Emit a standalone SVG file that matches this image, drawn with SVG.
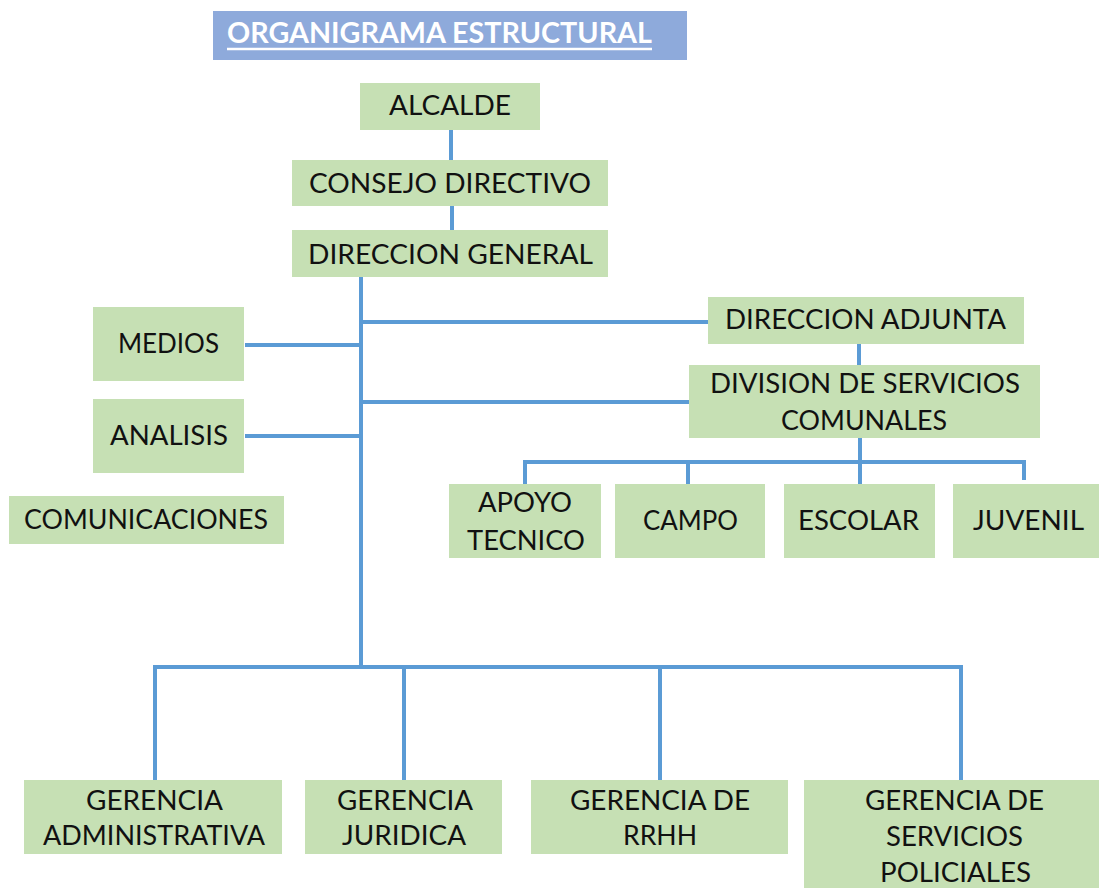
<svg xmlns="http://www.w3.org/2000/svg" width="1099" height="888" viewBox="0 0 1099 888">
<style>
.box{fill:#C6E0B4}
.t{font-family:Lato,"Open Sans","DejaVu Sans",sans-serif;font-size:27px;fill:#111111;text-anchor:middle}
.c{stroke:#5B9BD5;stroke-width:4;fill:none;stroke-linejoin:miter}
</style>
<rect width="1099" height="888" fill="#ffffff"/>
<g id="title">
<rect x="213" y="11" width="474" height="49" fill="#8EAADB"/>
<text x="439.5" y="43" font-family="Lato,'Open Sans',sans-serif" font-size="28" font-weight="bold" fill="#ffffff" text-anchor="middle" textLength="425" lengthAdjust="spacingAndGlyphs">ORGANIGRAMA ESTRUCTURAL</text>
<line x1="227" y1="49" x2="652" y2="49" stroke="#ffffff" stroke-width="2.5"/>
</g>
<g id="connectors" class="c">
<line x1="451" y1="130" x2="451" y2="160"/>
<line x1="452" y1="206" x2="452" y2="230"/>
<line x1="361" y1="277" x2="361" y2="667"/>
<line x1="245" y1="345" x2="361" y2="345"/>
<line x1="245" y1="436" x2="361" y2="436"/>
<line x1="361" y1="322" x2="708" y2="322"/>
<line x1="361" y1="402" x2="689" y2="402"/>
<line x1="859" y1="344" x2="859" y2="366"/>
<line x1="860" y1="437" x2="860" y2="484"/>
<polyline points="525,484 525,462 1024,462 1024,480"/>
<line x1="688" y1="462" x2="688" y2="488"/>
<polyline points="155,780 155,667 961,667 961,780"/>
<line x1="404" y1="667" x2="404" y2="780"/>
<line x1="660" y1="667" x2="660" y2="780"/>
</g>
<g id="alcalde"><rect class="box" x="360" y="83" width="180" height="47"/><text class="t" x="450" y="115" textLength="122" lengthAdjust="spacingAndGlyphs">ALCALDE</text></g>
<g id="consejo"><rect class="box" x="292" y="160" width="316" height="46"/><text class="t" x="450" y="193" textLength="282" lengthAdjust="spacingAndGlyphs">CONSEJO DIRECTIVO</text></g>
<g id="direccion-general"><rect class="box" x="292" y="230" width="316" height="47"/><text class="t" x="450.5" y="264" textLength="285" lengthAdjust="spacingAndGlyphs">DIRECCION GENERAL</text></g>
<g id="medios"><rect class="box" x="93" y="307" width="151" height="74"/><text class="t" x="168.5" y="353" textLength="101" lengthAdjust="spacingAndGlyphs">MEDIOS</text></g>
<g id="analisis"><rect class="box" x="93" y="399" width="151" height="74"/><text class="t" x="169" y="445" textLength="118" lengthAdjust="spacingAndGlyphs">ANALISIS</text></g>
<g id="comunicaciones"><rect class="box" x="9" y="496" width="275" height="48"/><text class="t" x="146" y="529" textLength="244" lengthAdjust="spacingAndGlyphs">COMUNICACIONES</text></g>
<g id="direccion-adjunta"><rect class="box" x="708" y="297" width="316" height="47"/><text class="t" x="865.5" y="329" textLength="281" lengthAdjust="spacingAndGlyphs">DIRECCION ADJUNTA</text></g>
<g id="division"><rect class="box" x="689" y="365" width="351" height="73"/><text class="t" x="865" y="393" textLength="310" lengthAdjust="spacingAndGlyphs">DIVISION DE SERVICIOS</text><text class="t" x="864" y="430" textLength="166" lengthAdjust="spacingAndGlyphs">COMUNALES</text></g>
<g id="apoyo"><rect class="box" x="449" y="484" width="152" height="74"/><text class="t" x="525" y="512" textLength="94" lengthAdjust="spacingAndGlyphs">APOYO</text><text class="t" x="526" y="550" textLength="118" lengthAdjust="spacingAndGlyphs">TECNICO</text></g>
<g id="campo"><rect class="box" x="615" y="484" width="150" height="74"/><text class="t" x="690.5" y="530" textLength="95" lengthAdjust="spacingAndGlyphs">CAMPO</text></g>
<g id="escolar"><rect class="box" x="784" y="484" width="151" height="74"/><text class="t" x="858.5" y="530" textLength="121" lengthAdjust="spacingAndGlyphs">ESCOLAR</text></g>
<g id="juvenil"><rect class="box" x="953" y="484" width="146" height="74"/><text class="t" x="1028.5" y="530" textLength="111" lengthAdjust="spacingAndGlyphs">JUVENIL</text></g>
<g id="gerencia-administrativa"><rect class="box" x="24" y="780" width="258" height="74"/><text class="t" x="154.5" y="810" textLength="137" lengthAdjust="spacingAndGlyphs">GERENCIA</text><text class="t" x="154" y="845" textLength="222" lengthAdjust="spacingAndGlyphs">ADMINISTRATIVA</text></g>
<g id="gerencia-juridica"><rect class="box" x="305" y="780" width="197" height="74"/><text class="t" x="405" y="810" textLength="136" lengthAdjust="spacingAndGlyphs">GERENCIA</text><text class="t" x="404" y="845" textLength="124" lengthAdjust="spacingAndGlyphs">JURIDICA</text></g>
<g id="gerencia-rrhh"><rect class="box" x="531" y="780" width="257" height="74"/><text class="t" x="660" y="810" textLength="180" lengthAdjust="spacingAndGlyphs">GERENCIA DE</text><text class="t" x="660" y="845" textLength="74" lengthAdjust="spacingAndGlyphs">RRHH</text></g>
<g id="gerencia-policiales"><rect class="box" x="804" y="780" width="295" height="108"/><text class="t" x="954.5" y="810" textLength="179" lengthAdjust="spacingAndGlyphs">GERENCIA DE</text><text class="t" x="954.5" y="846" textLength="137" lengthAdjust="spacingAndGlyphs">SERVICIOS</text><text class="t" x="955.5" y="882" textLength="151" lengthAdjust="spacingAndGlyphs">POLICIALES</text></g>
</svg>
